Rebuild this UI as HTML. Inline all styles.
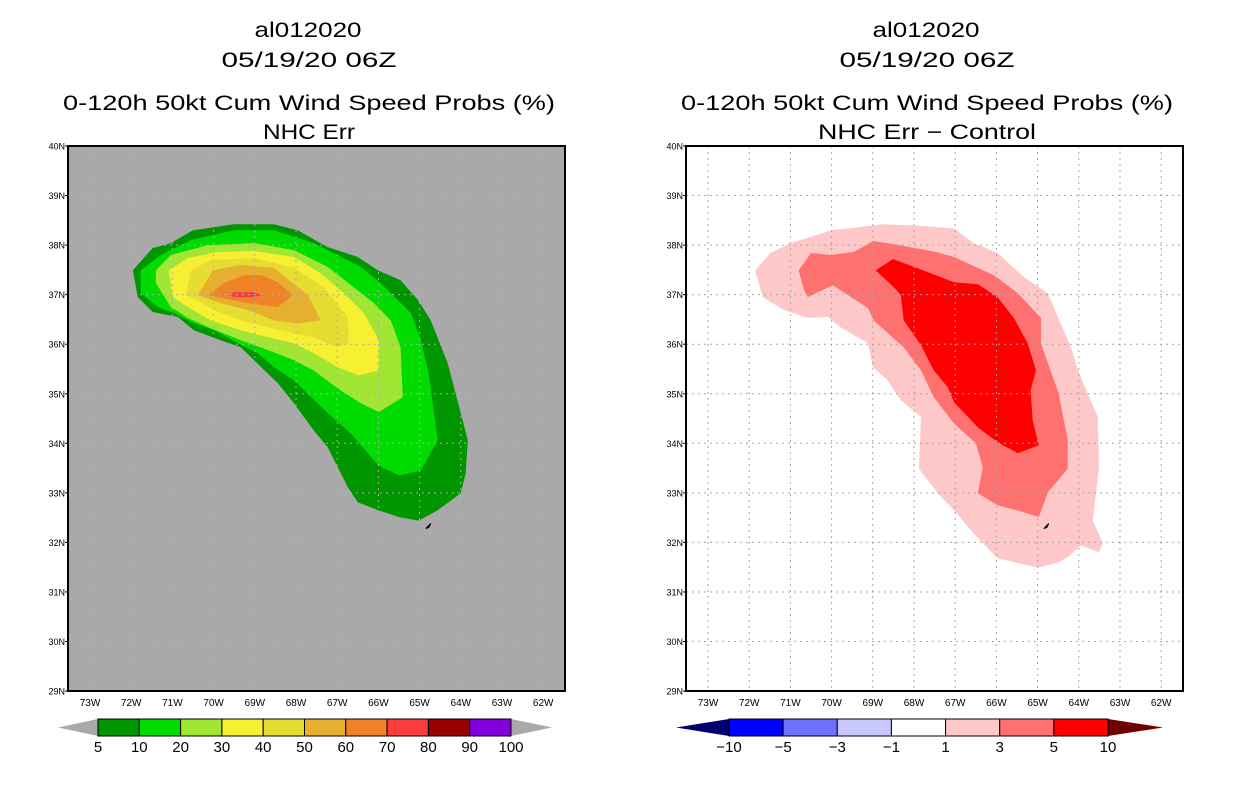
<!DOCTYPE html>
<html><head><meta charset="utf-8">
<style>
body{margin:0;background:#fff;width:1236px;height:800px;overflow:hidden}
svg{display:block;font-family:"Liberation Sans",sans-serif}
</style></head>
<body>
<svg id="s" width="1236" height="800" xmlns="http://www.w3.org/2000/svg">
<g font-size="21" text-anchor="middle" fill="#000">
<text x="308" y="37" textLength="107" lengthAdjust="spacingAndGlyphs">al012020</text>
<text x="309" y="67" textLength="175" lengthAdjust="spacingAndGlyphs">05/19/20 06Z</text>
<text x="309" y="110" textLength="492" lengthAdjust="spacingAndGlyphs">0-120h 50kt Cum Wind Speed Probs (%)</text>
<text x="309" y="139" textLength="92" lengthAdjust="spacingAndGlyphs">NHC Err</text></g>
<g font-size="21" text-anchor="middle" fill="#000">
<text x="926" y="37" textLength="107" lengthAdjust="spacingAndGlyphs">al012020</text>
<text x="927" y="67" textLength="175" lengthAdjust="spacingAndGlyphs">05/19/20 06Z</text>
<text x="927" y="110" textLength="492" lengthAdjust="spacingAndGlyphs">0-120h 50kt Cum Wind Speed Probs (%)</text>
<text x="927" y="139" textLength="218" lengthAdjust="spacingAndGlyphs">NHC Err − Control</text></g>
</svg>
<script>
const lonTicks=[-73,-72,-71,-70,-69,-68,-67,-66,-65,-64,-63,-62];
const latTicks=[29,30,31,32,33,34,35,36,37,38,39,40];
const leftLevels=['5','10','20','30','40','50','60','70','80','90','100'];
const leftColors=['#009600','#00dc00','#a0e632','#f7ef32','#e6dc32','#e6af2d','#f08228','#fa3c3c','#960000','#8200dc'];
const rightLevels=['−10','−5','−3','−1','1','3','5','10'];
const rightColors=['#0000ff','#7070ff','#c8c8ff','#ffffff','#ffc8c8','#ff7070','#ff0000'];
const leftContours=[
[[-71.96,37.49],[-71.48,37.94],[-71.04,38.04],[-70.50,38.30],[-69.51,38.42],[-68.54,38.42],[-67.96,38.30],[-67.23,37.96],[-66.50,37.76],[-66.01,37.49],[-65.46,37.29],[-65.04,36.89],[-64.73,36.48],[-64.32,35.62],[-64.00,34.61],[-63.83,34.06],[-63.88,33.39],[-64.00,32.99],[-64.56,32.65],[-65.02,32.44],[-65.50,32.51],[-66.01,32.65],[-66.50,32.81],[-66.74,33.11],[-67.23,33.92],[-67.57,34.26],[-68.05,34.81],[-68.44,35.21],[-68.85,35.54],[-69.34,35.94],[-69.83,36.08],[-70.48,36.28],[-70.87,36.55],[-71.48,36.65],[-71.84,36.95]],
[[-71.77,37.49],[-71.28,37.80],[-70.55,38.10],[-69.51,38.30],[-68.54,38.30],[-67.57,38.04],[-66.43,37.56],[-65.94,37.23],[-65.21,36.63],[-64.97,36.08],[-64.78,35.41],[-64.56,34.06],[-64.97,33.45],[-65.50,33.35],[-66.01,33.56],[-66.67,34.20],[-67.23,34.61],[-68.05,35.27],[-68.54,35.54],[-68.93,35.82],[-69.41,36.02],[-69.99,36.28],[-70.48,36.42],[-70.97,36.63],[-71.35,36.75],[-71.77,37.03]],
[[-71.40,37.49],[-71.04,37.80],[-70.14,38.00],[-69.02,38.04],[-68.05,37.90],[-67.23,37.56],[-66.60,37.15],[-66.11,36.83],[-65.70,36.48],[-65.46,35.94],[-65.41,34.93],[-65.99,34.63],[-66.43,34.81],[-66.99,35.11],[-67.57,35.47],[-68.05,35.68],[-68.68,35.88],[-69.34,36.08],[-70.07,36.32],[-70.63,36.53],[-71.04,36.75],[-71.40,37.23]],
[[-71.09,37.49],[-70.63,37.74],[-69.90,37.86],[-69.02,37.88],[-68.05,37.76],[-67.40,37.43],[-66.84,37.03],[-66.35,36.63],[-65.99,36.08],[-65.99,35.47],[-66.48,35.37],[-66.99,35.54],[-67.57,35.82],[-68.05,36.02],[-68.68,36.14],[-69.34,36.28],[-70.07,36.48],[-70.63,36.75],[-70.99,36.95]],
[[-70.67,36.99],[-70.55,37.49],[-70.07,37.70],[-69.02,37.74],[-68.05,37.54],[-67.33,37.15],[-66.74,36.55],[-66.72,36.02],[-66.99,35.94],[-67.57,36.14],[-68.05,36.22],[-68.68,36.34],[-69.34,36.48],[-69.99,36.69],[-70.38,36.89]],
[[-70.38,36.99],[-70.02,37.49],[-69.34,37.60],[-68.54,37.54],[-67.71,36.99],[-67.40,36.48],[-67.96,36.42],[-68.54,36.48],[-69.17,36.69],[-69.83,36.83]],
[[-70.12,36.99],[-69.75,37.23],[-69.27,37.39],[-68.85,37.39],[-68.44,37.25],[-68.08,36.99],[-68.44,36.75],[-69.17,36.83],[-69.66,36.91]],
[[-69.63,36.99],[-69.51,37.05],[-69.02,37.05],[-68.81,36.99],[-69.02,36.95],[-69.51,36.95]]
];
const rightContours=[
[[-71.86,37.49],[-71.48,37.84],[-70.99,38.04],[-70.02,38.30],[-68.73,38.42],[-68.08,38.40],[-67.03,38.34],[-66.55,38.04],[-65.97,37.84],[-65.33,37.35],[-64.75,37.03],[-64.51,36.55],[-64.19,35.94],[-64.02,35.47],[-63.54,34.53],[-63.51,33.52],[-63.66,32.44],[-63.42,31.98],[-63.51,31.80],[-63.95,31.94],[-64.27,31.70],[-64.49,31.60],[-64.99,31.49],[-65.97,31.68],[-66.55,32.18],[-67.03,32.65],[-67.42,32.99],[-67.88,33.49],[-67.83,34.53],[-68.32,34.87],[-68.64,35.27],[-69.00,35.54],[-69.12,36.02],[-69.78,36.34],[-70.09,36.55],[-70.58,36.53],[-71.16,36.69],[-71.67,36.95]],
[[-70.80,37.49],[-70.50,37.84],[-70.02,37.80],[-69.46,37.86],[-69.00,38.08],[-68.49,38.02],[-67.47,37.86],[-67.03,37.76],[-66.06,37.39],[-65.48,37.03],[-64.92,36.53],[-64.92,36.02],[-64.49,35.01],[-64.27,34.06],[-64.27,33.49],[-64.75,33.01],[-64.97,32.51],[-65.33,32.61],[-65.97,32.75],[-66.45,32.99],[-66.33,33.52],[-66.50,34.00],[-67.03,34.40],[-67.52,34.93],[-67.83,35.47],[-68.25,35.94],[-68.98,36.48],[-69.12,36.73],[-69.97,37.19],[-70.58,36.95],[-70.67,37.09]],
[[-68.93,37.49],[-68.51,37.72],[-68.00,37.56],[-67.03,37.25],[-66.45,37.21],[-65.97,36.95],[-65.58,36.53],[-65.24,36.02],[-65.04,35.47],[-65.17,35.07],[-65.12,34.46],[-64.97,33.96],[-65.48,33.80],[-65.97,34.02],[-66.45,34.32],[-67.03,34.83],[-67.18,35.13],[-67.52,35.47],[-67.83,35.98],[-68.25,36.48],[-68.32,36.99],[-68.49,37.15]]
];
const leftLevelIdx=[0,1,2,3,4,5,6,7];
const rightLevelIdx=[4,5,6];
const NS='http://www.w3.org/2000/svg';
const svg=document.getElementById('s');
function mk(t,a,p){const e=document.createElementNS(NS,t);for(const k in a)e.setAttribute(k,a[k]);(p||svg).appendChild(e);return e;}
const Y=lat=>146+(40-lat)*49.55;
function drawPanel(x0,bg,contours,idx,colors,side,gridCol){
  const X=lon=>x0+22+(lon+73)*41.2;
  const g=mk('g',{});
  
  
  const bgr=mk('rect',{x:x0,y:146,width:497,height:545,fill:bg},g);
  
  
  contours.forEach((poly,i)=>{
    const p=mk('polygon',{points:poly.map(q=>X(q[0]).toFixed(1)+','+Y(q[1]).toFixed(1)).join(' '),fill:colors[idx[i]]},g);
    
    
  });
  lonTicks.forEach(l=>{
    const gl=mk('line',{x1:X(l),x2:X(l),y1:146,y2:691,stroke:gridCol,'stroke-dasharray':'2,4'},g);
    
    
    const t=mk('text',{x:X(l),y:706,'font-size':10,'text-anchor':'middle'},g);
    
    
    t.textContent=(-l)+'W';
  });
  latTicks.forEach(l=>{
    if(l>29&&l<40){const gl=mk('line',{x1:x0,x2:x0+497,y1:Y(l),y2:Y(l),stroke:gridCol,'stroke-dasharray':'2,4'},g);
    
    }
    mk('line',{x1:x0-3,x2:x0,y1:Y(l),y2:Y(l),stroke:'#000'},g);
    const t=mk('text',{x:x0-3,y:Y(l)+3.5,'font-size':9,'text-anchor':'end'},g);
    
    
    t.textContent=l+'N';
  });
  const st=mk('path',{d:`M${X(-64.85)} ${Y(32.28)} l5 -5 l-2 4 z`,fill:'#000',stroke:'#000'},g);
  
  
  const fr=mk('rect',{x:x0,y:146,width:497,height:545,fill:'none',stroke:'#000','stroke-width':2},g);
  
  
}
drawPanel(68,'#a9a9a9',leftContours,leftLevelIdx,leftColors,'left','#adadad');
drawPanel(686,'#ffffff',rightContours,rightLevelIdx,rightColors,'right','#a6a6a6');
function colorbar(xs,xe,tipL,tipR,levels,colors,lc,rc,side){
  const g=mk('g',{});
  
  
  const w=(xe-xs)/colors.length,y0=719,h=17;
  mk('polygon',{points:`${tipL},${y0+h/2} ${xs},${y0} ${xs},${y0+h}`,fill:lc},g);
  mk('polygon',{points:`${tipR},${y0+h/2} ${xe},${y0} ${xe},${y0+h}`,fill:rc},g);
  colors.forEach((c,i)=>{
    const r=mk('rect',{x:xs+i*w,y:y0,width:w,height:h,fill:c,stroke:'#000','stroke-width':1},g);
    
    
  });
  levels.forEach((t,i)=>{
    const tx=mk('text',{x:xs+i*w,y:752,'font-size':15,'text-anchor':'middle'},g);
    
    
    tx.textContent=t;
  });
}
colorbar(98,511,58,552,leftLevels,leftColors,'#a9a9a9','#a9a9a9','left');
colorbar(729,1108,676,1163,rightLevels,rightColors,'#00006e','#6e0000','right');
</script>
</body></html>
